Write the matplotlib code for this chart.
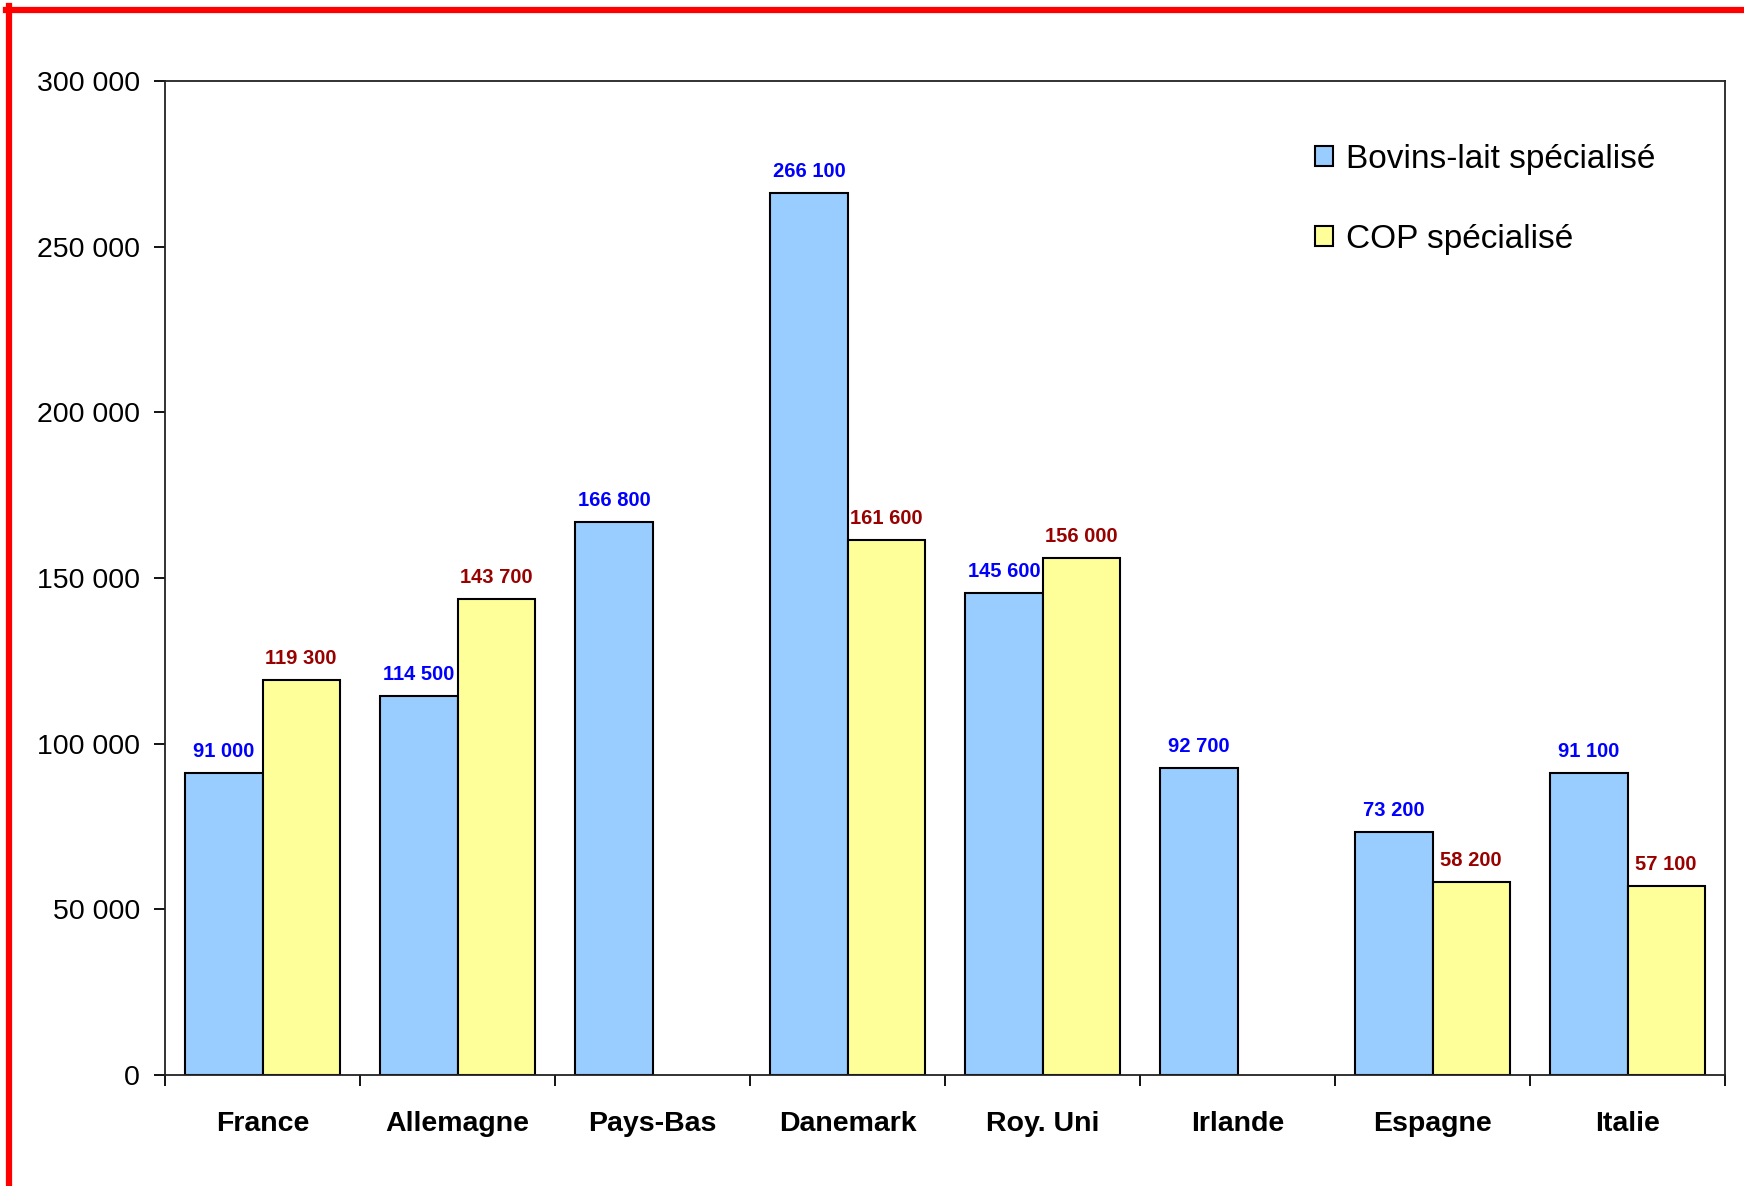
import numpy as np
import matplotlib.pyplot as plt
from matplotlib.lines import Line2D
from matplotlib.ticker import FuncFormatter

countries = ["France", "Allemagne", "Pays-Bas", "Danemark", "Roy. Uni",
             "Irlande", "Espagne", "Italie"]
bovins_lait = [91000, 114500, 166800, 266100, 145600, 92700, 73200, 91100]
cop = [119300, 143700, None, 161600, 156000, None, 58200, 57100]
series_names = ["Bovins-lait spécialisé", "COP spécialisé"]

plt.rcParams['font.family'] = ['Liberation Sans', 'DejaVu Sans']

W, H = 1744, 1186
fig = plt.figure(figsize=(W / 100, H / 100), dpi=100)
fig.patch.set_facecolor('white')
ax = fig.add_axes([165 / W, (H - 1075) / H, 1560 / W, 994 / H])

x = np.arange(len(countries)) + 0.5
bw = 0.395
blue, yellow = '#99CCFF', '#FFFF99'

def fmt(v):
    return f"{int(v):,}".replace(",", " ")

for i, v in enumerate(bovins_lait):
    ax.bar(x[i] - bw / 2, v, bw, color=blue, edgecolor='black', linewidth=1.5,
           label=series_names[0] if i == 0 else None, zorder=2)
    ax.annotate(fmt(v), (x[i] - bw / 2, v), xytext=(0, 12), textcoords='offset pixels',
                ha='center', va='bottom', color='#0000FF', fontsize=14.5,
                fontweight='bold')
for i, v in enumerate(cop):
    if v is None:
        continue
    ax.bar(x[i] + bw / 2, v, bw, color=yellow, edgecolor='black', linewidth=1.5,
           label=series_names[1] if i == 0 else None, zorder=2)
    ax.annotate(fmt(v), (x[i] + bw / 2, v), xytext=(0, 12), textcoords='offset pixels',
                ha='center', va='bottom', color='#990000', fontsize=14.5,
                fontweight='bold')

ax.set_xlim(0, len(countries))
ax.set_ylim(0, 300000)
ax.set_yticks(np.arange(0, 300001, 50000))
ax.yaxis.set_major_formatter(FuncFormatter(lambda v, p: fmt(v)))
ax.set_xticks(np.arange(len(countries) + 1))
ax.set_xticklabels([])
ax.set_xticks(x, minor=True)
ax.set_xticklabels(countries, minor=True, fontsize=20.5, fontweight='bold')
ax.tick_params(axis='x', which='minor', length=0, pad=26)
ax.tick_params(axis='x', which='major', direction='out', length=8, width=1.3)
ax.tick_params(axis='y', direction='out', length=8, width=1.3, labelsize=20.5, pad=10)
for s in ax.spines.values():
    s.set_linewidth(1.3)
    s.set_color('#222222')

ax.legend(loc='upper left', bbox_to_anchor=(0.737, 0.937), frameon=False,
          fontsize=24, handlelength=0.55, handleheight=0.55, handletextpad=0.4,
          labelspacing=1.47, borderpad=0, borderaxespad=0)

# red frame (cut at right and bottom)
fig.add_artist(Line2D([9 / W, 9 / W], [0, 1 - 6 / H], color='red', linewidth=4.5,
                      transform=fig.transFigure))
fig.add_artist(Line2D([6 / W, 1], [1 - 9.5 / H, 1 - 9.5 / H], color='red', linewidth=4.5,
                      transform=fig.transFigure))

fig.savefig("out.png", dpi=100)
